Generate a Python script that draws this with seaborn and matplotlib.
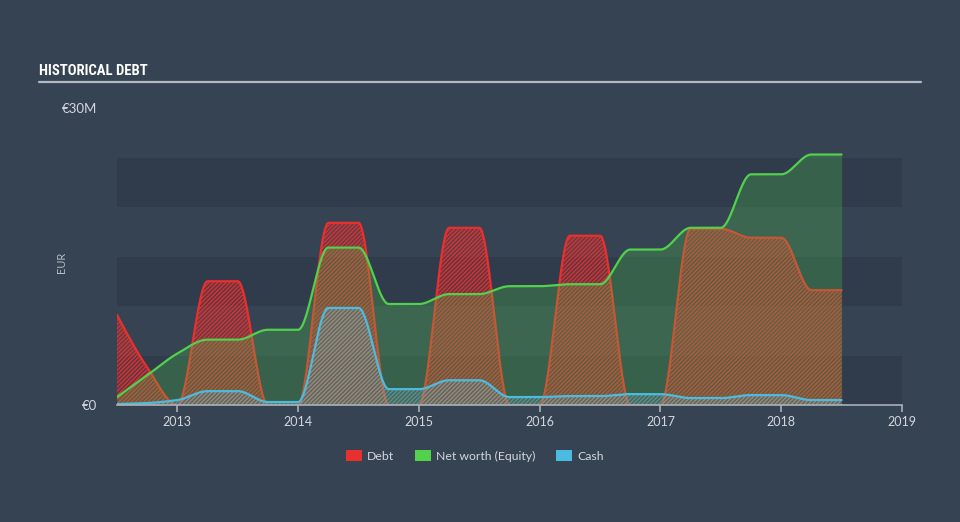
import numpy as np
import pandas as pd
import matplotlib
matplotlib.use("Agg")
import matplotlib.pyplot as plt
import seaborn as sns
from matplotlib.patches import Patch
from matplotlib import font_manager as fm

# ---------------- data (EUR millions) ----------------
dates = [2012.5, 2012.75, 2013.0, 2013.25, 2013.5, 2013.75, 2014.0, 2014.25, 2014.5,
         2014.75, 2015.0, 2015.25, 2015.5, 2015.75, 2016.0, 2016.25, 2016.5, 2016.75,
         2017.0, 2017.25, 2017.5, 2017.75, 2018.0, 2018.25, 2018.5]
debt = [9.1, 3.8, 0.0, 12.5, 12.5, 0.0, 0.0, 18.4, 18.4,
        0.0, 0.0, 17.9, 17.9, 0.0, 0.0, 17.1, 17.1, 0.0,
        0.0, 17.8, 17.8, 16.9, 16.9, 11.6, 11.6]
equity = [0.8, 3.0, 5.2, 6.6, 6.6, 7.6, 7.6, 15.9, 15.9,
          10.2, 10.2, 11.2, 11.2, 12.0, 12.0, 12.2, 12.2, 15.7,
          15.7, 17.9, 17.9, 23.3, 23.3, 25.3, 25.3]
cash = [0.1, 0.2, 0.5, 1.4, 1.4, 0.3, 0.3, 9.8, 9.8,
        1.6, 1.6, 2.5, 2.5, 0.8, 0.8, 0.9, 0.9, 1.1,
        1.1, 0.7, 0.7, 1.0, 1.0, 0.5, 0.5]
xtick_values = [2013, 2014, 2015, 2016, 2017, 2018, 2019]
xtick_labels = ["2013", "2014", "2015", "2016", "2017", "2018", "2019"]
ytick_values = [0, 30]
ytick_labels = ["€0", "€30M"]
series_names = ["Debt", "Net worth (Equity)", "Cash"]

# ---------------- style ----------------
BG = "#364353"
BAND = "#303c4b"
RED = "#e8302e"
GREEN = "#52d14c"
BLUE = "#4cbbe0"
TXT = "#d2d7dc"
AXC = "#a9b1b9"


def pick(cands):
    names = {f.name for f in fm.fontManager.ttflist}
    for c in cands:
        if c in names:
            return c
    return "DejaVu Sans"


sns.set_style("dark", {"axes.facecolor": BG, "figure.facecolor": BG})
BODY = pick(["Lato", "Open Sans", "DejaVu Sans"])
TITLEF = pick(["Liberation Sans Narrow", "Roboto Condensed", "DejaVu Sans"])
plt.rcParams["font.family"] = [BODY, "DejaVu Sans"]
plt.rcParams["hatch.linewidth"] = 1.1


def monotone(x, y, xs):
    x = np.asarray(x, float)
    y = np.asarray(y, float)
    h = np.diff(x)
    d = np.diff(y) / h
    n = len(y)
    m = np.zeros(n)
    for k in range(1, n - 1):
        if d[k - 1] * d[k] > 0:
            w1 = 2 * h[k] + h[k - 1]
            w2 = h[k] + 2 * h[k - 1]
            m[k] = (w1 + w2) / (w1 / d[k - 1] + w2 / d[k])
    m[0] = (3 * d[0] - m[1]) / 2 if d[0] != 0 else 0
    if m[0] * d[0] < 0:
        m[0] = 0
    m[-1] = (3 * d[-1] - m[-2]) / 2 if d[-1] != 0 else 0
    if m[-1] * d[-1] < 0:
        m[-1] = 0
    idx = np.clip(np.searchsorted(x, xs, side="right") - 1, 0, n - 2)
    t = (xs - x[idx]) / h[idx]
    h00 = 2 * t**3 - 3 * t**2 + 1
    h10 = t**3 - 2 * t**2 + t
    h01 = -2 * t**3 + 3 * t**2
    h11 = t**3 - t**2
    return h00 * y[idx] + h10 * h[idx] * m[idx] + h01 * y[idx + 1] + h11 * h[idx] * m[idx + 1]


xs = np.linspace(dates[0], dates[-1], 1200)
frames = []
for name, vals in zip(series_names, [debt, equity, cash]):
    frames.append(pd.DataFrame({"date": xs, "value": monotone(dates, vals, xs), "series": name}))
df = pd.concat(frames, ignore_index=True)

fig = plt.figure(figsize=(9.6, 5.22), dpi=100, facecolor=BG)
ax = fig.add_axes([117 / 960, 1 - 405 / 522, 785 / 960, 297 / 522])
ax.set_facecolor(BG)

# bands
for lo in (0, 10, 20):
    ax.axhspan(lo, lo + 5, color=BAND, zorder=0, lw=0)

d_s = df[df.series == "Debt"]
e_s = df[df.series == "Net worth (Equity)"]
c_s = df[df.series == "Cash"]

ax.fill_between(d_s.date, 0, d_s.value, facecolor=(0.91, 0.19, 0.18, 0.2),
                edgecolor=(0.91, 0.19, 0.18, 0.85), hatch="////////", linewidth=0, zorder=1)
sns.lineplot(data=d_s, x="date", y="value", color=RED, lw=1.6, ax=ax, zorder=2)
ax.fill_between(e_s.date, 0, e_s.value, facecolor=(0.32, 0.82, 0.30, 0.25),
                linewidth=0, zorder=3)
sns.lineplot(data=e_s, x="date", y="value", color=GREEN, lw=1.6, ax=ax, zorder=4)
ax.fill_between(c_s.date, 0, c_s.value, facecolor=(0.30, 0.73, 0.88, 0.12),
                edgecolor=(0.55, 0.65, 0.70, 0.5), hatch="////////", linewidth=0, zorder=5)
sns.lineplot(data=c_s, x="date", y="value", color=BLUE, lw=1.6, ax=ax, zorder=6)

ax.set_xlim(2012.5, 2019.0)
ax.set_ylim(0, 30)
ax.set_xlabel("")
ax.set_ylabel("")
ax.grid(False)
for s in ("top", "right", "left"):
    ax.spines[s].set_visible(False)
ax.spines["bottom"].set_color(AXC)
ax.spines["bottom"].set_linewidth(1.2)
ax.spines["bottom"].set_zorder(10)

ax.set_xticks(xtick_values)
ax.set_xticklabels(xtick_labels)
ax.set_yticks(ytick_values)
ax.set_yticklabels(ytick_labels)
ax.tick_params(axis="x", colors=AXC, length=5, width=1.2, direction="out", pad=3,
               labelsize=9, labelcolor=TXT, bottom=True)
ax.tick_params(axis="y", length=0, pad=14, labelsize=9.5, labelcolor=TXT, left=False)

# title + rule
fig.text(39 / 960, 1 - 75 / 522, "HISTORICAL DEBT", family=[TITLEF, "DejaVu Sans"],
         fontweight="bold", fontstretch="condensed", fontsize=10.5, color="white",
         va="baseline", ha="left")
fig.add_artist(plt.Line2D([39 / 960, 921 / 960], [1 - 82 / 522, 1 - 82 / 522],
                          color="#b3bac2", lw=1.6))

fig.text(62 / 960, 1 - 262 / 522, "EUR", rotation=90, fontsize=8, color="#b4bcc4",
         ha="center", va="center")

handles = [Patch(facecolor=RED, edgecolor="none"),
           Patch(facecolor=GREEN, edgecolor="none"),
           Patch(facecolor=BLUE, edgecolor="none")]
fig.legend(handles, series_names, loc="center", bbox_to_anchor=(475 / 960, 1 - 456 / 522),
           ncol=3, frameon=False, fontsize=8.8, labelcolor=TXT, handlelength=1.3,
           handleheight=0.95, handletextpad=0.45, columnspacing=1.7)

fig.savefig("out.png", dpi=100, facecolor=BG)
